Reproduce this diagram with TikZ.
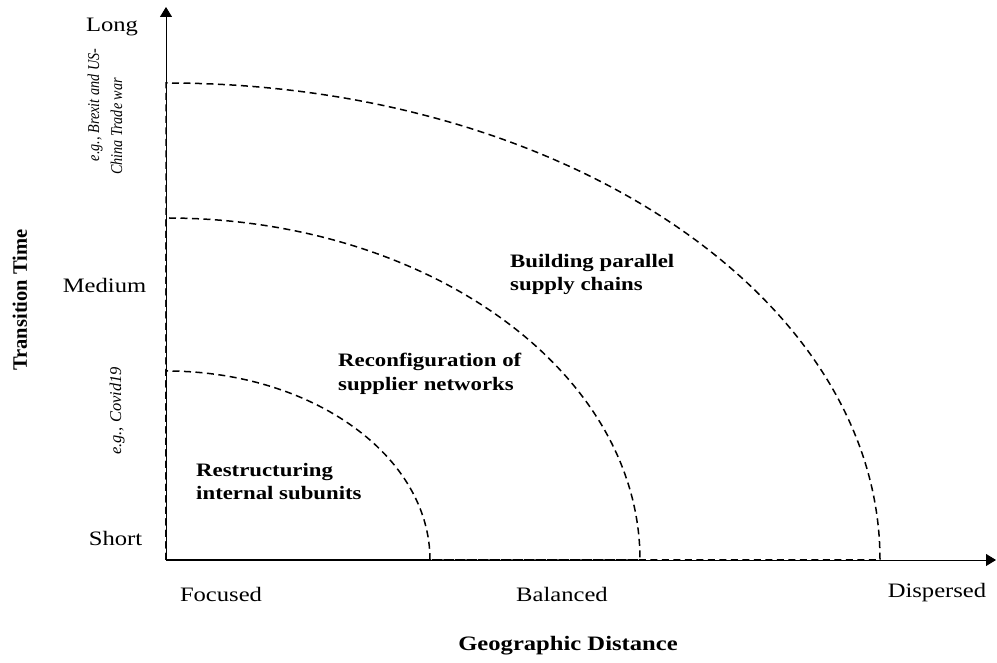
\documentclass[tikz,border=0pt]{standalone}
\usepackage{fontspec}
\setmainfont{Liberation Serif}
\usetikzlibrary{arrows.meta}
\usetikzlibrary{positioning}
\tikzset{axis/.style = {line width = 0.9pt, -{Triangle[length = 10pt, width = 12pt]}}}
\tikzset{zone/.style = {line width = 1.5pt, dash pattern = on 7pt off 4.5pt}}
\tikzset{tick/.style = {inner sep = 0, xscale = 1.2, font = \fontsize{20.5}{24}\selectfont}}
\tikzset{title/.style = {inner sep = 0, font = \fontsize{20.5}{24}\selectfont\bfseries}}
\tikzset{event/.style = {inner sep = 0, rotate = 90, anchor = base, font = \fontsize{16.5}{20}\selectfont\itshape}}
\tikzset{strategy/.style = {inner sep = 0, xscale = 1.2, align = left, anchor = north west,
    font = \fontsize{19}{23.5}\selectfont\bfseries}}

\begin{document}
\begin{tikzpicture}[x = 1pt, y = 1pt]
    \useasboundingbox (0, 0) rectangle (997, 663);

    \coordinate (origin) at (166, 103);
    \coordinate (ytip) at (166, 656);
    \coordinate (xtip) at (996, 103);

    \draw [axis] (origin) -- (ytip);
    \draw [axis] (origin) -- (xtip);

    % quarter ellipses of the three responses
    \foreach \rx/\ry in {264/189, 474/342, 714/477}
      \draw [zone] (origin) -- ++(0, \ry)
        arc [start angle = 90, end angle = 0, x radius = \rx, y radius = \ry] -- cycle;

    \node [tick, anchor = base] (long) at (112, 631) {Long};
    \node [tick, anchor = base] (medium) at (104.5, 370) {Medium};
    \node [tick, anchor = base] (short) at (115.5, 117) {Short};

    \node [tick, anchor = base] (focused) at (221, 61) {Focused};
    \node [tick, anchor = base] (balanced) at (562, 61) {Balanced};
    \node [tick, anchor = base] (dispersed) at (937, 65) {Dispersed};

    \node [title, xscale = 1.2, anchor = base] (distance) at (568, 12) {Geographic Distance};
    \node [title, rotate = 90, anchor = base] (time) at (27, 363) {Transition Time};

    \node [yscale = 0.86, event] (brexit) at (99, 558) {e.g., Brexit and US-};
    \node [yscale = 0.86, event] (tradewar) at (122, 536.5) {China Trade war};
    \node [event] (covid) at (121, 252) {e.g., Covid19};

    \node [strategy] (internal) at (196, 200) {Restructuring\\internal subunits};
    \node [strategy] (supplier) at (338, 310) {Reconfiguration of\\supplier networks};
    \node [strategy] (parallel) at (510, 409) {Building parallel\\supply chains};
\end{tikzpicture}
\end{document}
